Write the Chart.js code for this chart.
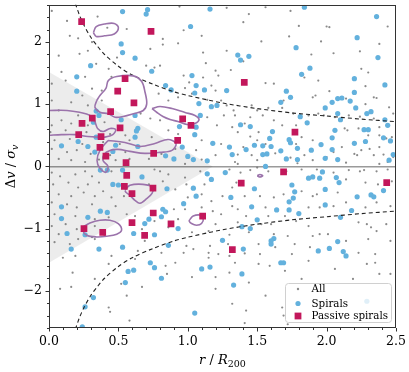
<!DOCTYPE html>
<html>
<head>
<meta charset="utf-8">
<script src="https://cdn.jsdelivr.net/npm/chart.js@4/dist/chart.umd.min.js"></script>
<style>
  html, body { margin: 0; padding: 0; background: #fff; }
  canvas { display: block; }
</style>
</head>
<body>
<canvas id="phase" width="409" height="372"></canvas>
<script>
// axis ticks
const xTicks = [0, 0.5, 1.0, 1.5, 2.0, 2.5];
const yTicks = [-2, -1, 0, 1, 2];

// all cluster members (r/R200, dv/sigma)
const allGalaxies = [
  [0.02,2.50],[0.13,2.34],[0.35,2.41],[0.42,2.23],[0.56,2.21],[0.15,2.10],[0.21,2.06],[0.31,2.00],[0.07,1.78],[0.22,1.81],
  [0.28,1.86],[0.49,1.75],[0.34,1.65],[0.43,1.57],[0.09,1.52],[0.26,1.44],[0.45,1.44],[0.02,1.33],[0.12,1.38],[0.31,1.25],
  [0.24,1.14],[0.38,1.22],[0.02,1.06],[0.16,1.03],[0.38,1.06],[0.28,0.98],[0.07,0.90],[0.21,0.82],[0.09,0.74],[0.02,0.66],
  [0.16,0.69],[0.28,0.66],[0.40,0.71],[0.52,0.61],[0.01,0.55],[0.12,0.58],[0.27,0.55],[0.44,0.52],[0.55,0.50],[0.04,0.42],
  [0.15,0.44],[0.24,0.36],[0.39,0.39],[0.51,0.36],[0.58,0.42],[0.02,0.28],[0.13,0.23],[0.20,0.26],[0.30,0.20],[0.44,0.18],
  [0.55,0.23],[0.07,0.12],[0.16,0.10],[0.26,0.07],[0.36,0.11],[0.48,0.10],[0.58,0.12],
  [0.02,-0.10],[0.08,-0.16],[0.19,-0.13],[0.26,-0.08],[0.31,-0.16],[0.45,-0.08],[0.03,-0.29],[0.14,-0.26],[0.21,-0.34],[0.28,-0.29],
  [0.36,-0.26],[0.39,-0.40],[0.07,-0.45],[0.16,-0.48],[0.25,-0.42],[0.33,-0.48],[0.45,-0.50],[0.54,-0.48],[0.02,-0.58],[0.13,-0.61],
  [0.20,-0.66],[0.31,-0.61],[0.48,-0.64],[0.04,-0.77],[0.19,-0.80],[0.33,-0.85],[0.43,-0.82],[0.56,-0.77],[0.02,-0.96],[0.12,-0.93],
  [0.20,-1.01],[0.33,-0.96],[0.07,-1.09],[0.21,-1.17],[0.31,-1.14],[0.40,-1.12],[0.04,-1.22],[0.15,-1.25],[0.10,-1.47],[0.19,-1.44],
  [0.33,-1.17],[0.45,-1.44],[0.62,-1.49],[0.17,-1.71],[0.43,-1.57],[0.33,-1.81],[0.08,-1.97],[0.52,-1.89],[0.56,-2.08],[0.43,-2.27],
  [0.44,-2.34],[0.58,-2.48],[0.16,-1.94],
  [0.76,-0.05],[0.80,-0.08],[0.86,-0.13],[0.98,-0.18],[1.09,-0.08],[0.72,-0.29],[0.82,-0.24],[0.99,-0.29],[0.91,-0.37],[1.12,-0.29],
  [1.00,-0.50],[1.10,-0.45],[1.17,-0.56],[1.25,-0.48],[0.90,-0.69],[0.98,-0.69],[1.10,-0.66],[1.18,-0.72],[1.24,-0.77],[0.62,-0.80],
  [0.76,-0.88],[0.93,-0.85],[1.20,-0.93],[0.67,-1.01],[0.86,-0.98],[1.03,-1.06],[1.15,-1.04],[0.69,-1.20],[0.99,-1.28],[1.16,-1.28],
  [0.64,-1.36],[0.81,-1.39],[0.97,-1.39],[1.04,-1.33],[1.15,-1.39],[1.22,-1.41],[0.84,-1.60],[0.91,-1.55],[1.15,-1.47],[0.85,-1.73],
  [1.03,-1.78],[0.67,-1.94],[1.20,-1.97],[1.20,-1.78],
  [0.94,2.57],[0.82,2.05],[0.82,1.96],[0.93,1.98],[0.97,2.19],[1.10,2.10],[0.73,1.89],[1.11,1.83],[1.13,1.66],[1.20,1.54],
  [0.70,1.62],[0.76,1.59],[0.80,1.62],[0.97,1.46],[1.01,1.35],[0.98,1.26],[1.03,1.17],[1.11,1.43],[1.17,1.30],[1.20,1.22],
  [1.22,1.46],[0.93,1.11],[0.79,1.17],[0.86,1.06],[1.14,1.07],[1.24,1.06],[0.66,0.85],[0.73,0.77],[0.80,0.74],[0.86,0.58],
  [0.93,0.52],[1.14,0.79],[1.21,0.66],[1.26,0.82],[0.74,0.47],[1.10,0.42],[1.24,0.36],[0.91,0.28],[1.06,0.26],[0.81,0.20],
  [0.72,0.12],[1.20,0.18],[0.90,0.10],[1.10,0.11],[0.98,0.04],
  [1.28,2.55],[1.44,2.45],[1.56,2.56],[1.74,2.50],[1.40,2.32],[1.80,2.26],[1.53,2.01],[1.73,2.09],[1.28,1.86],[1.89,1.80],
  [1.40,1.69],[1.31,1.55],[1.84,1.43],[1.56,1.34],[1.62,1.33],[1.69,1.06],[1.68,0.94],[1.90,1.11],[1.28,0.98],[1.33,0.90],
  [1.46,0.98],[1.50,0.90],[1.58,0.94],[1.34,0.82],[1.45,0.79],[1.54,0.82],[1.62,0.74],[1.76,0.85],[1.87,0.82],[1.32,0.63],
  [1.41,0.69],[1.51,0.55],[1.68,0.66],[1.78,0.66],[1.36,0.55],[1.45,0.48],[1.50,0.42],[1.82,0.47],[1.90,0.42],[1.40,0.31],
  [1.56,0.36],[1.78,0.36],[1.36,0.19],[1.46,0.18],[1.63,0.21],[1.84,0.18],[1.34,0.07],[1.36,0.04],[1.50,0.10],[1.74,0.14],
  [1.79,0.05],[1.90,0.10],
  [2.00,2.25],[2.02,2.24],[1.96,2.01],[2.05,1.82],[2.24,1.85],[2.44,2.25],[2.38,1.97],[2.25,1.57],[2.30,1.51],[1.94,1.38],
  [2.28,1.29],[1.92,1.14],[2.02,1.21],[2.14,1.09],[2.34,1.11],[2.36,1.10],[2.28,1.00],[2.45,0.95],[1.94,0.85],[1.98,0.82],
  [2.06,0.79],[2.16,0.82],[2.24,0.80],[2.34,0.77],[2.48,0.85],[2.13,0.61],[2.15,0.58],[2.23,0.61],[2.38,0.63],[2.30,0.50],
  [2.38,0.50],[2.41,0.47],[2.43,0.45],[2.47,0.47],[2.11,0.31],[2.20,0.20],[2.22,0.18],[2.31,0.28],[2.38,0.31],[2.25,0.26],
  [2.34,0.18],[2.41,0.19],[2.48,0.15],[2.00,0.15],[2.05,0.23],[2.14,0.06],[2.38,0.04],[2.44,0.07],
  [1.30,-0.05],[1.38,-0.10],[1.45,-0.06],[1.50,-0.02],[1.58,-0.08],[1.71,-0.08],[1.82,-0.05],[1.32,-0.34],[1.35,-0.26],[1.41,-0.48],
  [1.52,-0.48],[1.62,-0.50],[1.69,-0.45],[1.82,-0.40],[1.90,-0.48],[1.32,-0.64],[1.36,-0.69],[1.42,-0.80],[1.56,-0.66],[1.58,-0.80],
  [1.70,-0.80],[1.87,-0.66],[1.36,-0.90],[1.53,-0.93],[1.60,-0.93],[1.78,-0.88],[1.87,-0.96],[1.30,-1.10],[1.44,-1.06],[1.62,-1.09],
  [1.72,-1.12],[1.90,-1.12],[1.29,-1.25],[1.51,-1.25],[1.63,-1.30],[1.77,-1.25],[1.88,-1.30],[1.30,-1.44],[1.41,-1.40],[1.52,-1.41],
  [1.75,-1.41],[1.34,-1.55],[1.51,-1.57],[1.59,-1.60],[1.87,-1.52],[1.30,-1.71],[1.70,-1.68],[1.44,-1.87],[1.82,-1.81],[1.56,-2.08],
  [1.32,-2.21],[1.42,-2.32],[1.69,-2.40],[1.41,-2.52],[1.68,-2.27],[1.72,-2.54],
  [1.93,-0.05],[2.05,-0.10],[2.16,-0.06],[2.24,-0.08],[2.27,-0.06],[2.36,-0.08],[2.44,-0.05],[2.14,-0.21],[2.28,-0.26],[2.37,-0.29],
  [2.47,-0.24],[1.93,-0.45],[2.08,-0.42],[2.14,-0.58],[1.95,-0.66],[2.05,-0.64],[2.28,-0.66],[2.36,-0.58],[2.46,-0.64],[2.23,-0.90],
  [2.29,-0.93],[2.32,-0.98],[2.36,-1.04],[2.43,-0.93],[1.95,-1.09],[2.01,-1.09],[2.14,-1.20],[2.30,-1.17],[2.46,-1.20],[2.23,-1.39],
  [2.35,-1.41],[2.06,-1.65],[2.29,-1.57],[2.35,-1.55],[2.19,-1.81],[2.38,-1.73],[2.46,-1.73]
];

// spirals
const spirals = [
  [0.53,2.49],[0.71,2.52],[0.70,2.45],[1.02,2.25],[0.52,1.97],[0.53,1.83],[0.62,1.74],[0.30,1.62],[0.20,1.44],[0.74,1.53],
  [1.03,1.46],[0.84,1.30],[0.88,1.23],[1.12,1.23],[1.05,1.18],[1.06,1.30],[1.08,1.01],[0.20,1.21],[0.34,0.89],[0.36,0.82],
  [0.52,0.75],[0.62,0.82],[0.32,0.71],[0.64,0.61],[0.63,0.57],[1.09,0.82],[1.06,0.63],[0.94,0.64],[0.62,0.47],[0.34,0.47],
  [0.09,0.33],[0.21,0.40],[0.28,0.32],[0.33,0.23],[0.46,0.24],[0.48,0.34],[0.96,0.31],[0.84,0.17],[0.90,0.12],[1.14,-0.12],
  [0.37,-0.06],[0.46,-0.29],[0.67,-0.17],[1.16,2.53],[1.17,0.96],[1.21,0.98],[1.28,1.22],[1.05,0.51],[1.18,0.37],[1.00,0.16],
  [1.04,0.11],[1.14,0.09],[0.64,0.32],
  [1.84,2.56],[1.78,1.91],[1.36,1.79],[1.38,1.71],[1.44,1.77],[1.82,1.48],[1.88,1.58],[1.71,1.21],[1.74,1.11],[1.67,1.03],
  [1.81,0.80],[1.86,0.70],[1.38,0.67],[1.45,0.64],[1.61,0.56],[1.59,0.45],[1.73,0.43],[1.74,0.38],[1.30,0.31],[1.42,0.27],
  [1.48,0.34],[1.54,0.33],[1.60,0.32],[1.67,0.25],[1.79,0.29],[1.89,0.26],[1.32,0.19],[1.54,0.19],[1.57,0.20],[1.71,0.12],
  [1.79,0.11],[1.56,0.00],
  [2.36,2.41],[2.22,2.07],[2.37,1.75],[2.20,1.41],[2.42,1.31],[2.20,1.19],[2.11,1.10],[2.08,1.09],[2.17,1.05],[2.04,1.03],
  [1.99,0.94],[2.21,0.94],[2.32,0.88],[2.29,0.85],[2.08,0.85],[2.10,0.75],[2.42,0.75],[2.44,0.66],[2.06,0.58],[2.27,0.59],
  [2.30,0.59],[2.04,0.46],[2.20,0.37],[2.28,0.40],[2.41,0.46],[2.46,0.41],[1.96,0.35],[2.04,0.27],[2.48,0.19],[2.45,0.10],
  [1.99,0.13],[2.08,0.11],
  [0.42,-0.06],[0.53,-0.06],[0.50,-0.30],[0.09,-0.65],[0.09,-0.84],[0.28,-0.82],[0.37,-0.72],[0.42,-0.74],[0.13,-1.08],[0.26,-1.10],
  [0.61,-1.08],[0.16,-1.33],[0.36,-1.33],[0.53,-1.30],[0.57,-1.69],[0.61,-1.67],[0.55,-1.87],[0.32,-2.11],[0.26,-2.26],[0.24,-2.58],
  [0.85,-0.36],[1.17,-0.21],[1.04,-0.35],[1.06,-0.48],[0.97,-0.60],[0.82,-0.69],[0.84,-0.73],[0.81,-0.81],[0.72,-0.85],[0.69,-0.92],
  [0.93,-1.00],[0.76,-1.10],[0.86,-1.27],[1.25,-1.19],[0.73,-1.55],[0.76,-1.63],[0.81,-1.80],[1.10,-1.65],[1.16,-1.62],[1.05,-2.36],
  [1.87,-0.19],[1.90,-0.17],[1.48,-0.36],[1.75,-0.30],[1.77,-0.41],[1.76,-0.51],[1.73,-0.57],[1.31,-0.50],[1.46,-0.65],[1.64,-0.70],
  [1.73,-0.70],[1.80,-0.76],[1.50,-0.86],[1.39,-0.97],[1.45,-1.00],[1.62,-1.16],[1.60,-1.20],[1.60,-1.25],[1.40,-1.33],[1.67,-1.55],
  [1.69,-1.55],[1.39,-1.73],[1.33,-1.91],[1.97,-0.09],[1.95,-0.19],[2.07,-0.18],[2.09,-0.26],[1.99,-0.37],[2.22,-0.49],[2.32,-0.46],
  [2.34,-0.49],[2.41,-0.39],[1.99,-0.62],[2.18,-0.71],[2.10,-0.82],[2.08,-1.21],[1.94,-1.36],[2.02,-1.32],[2.12,-1.37],[2.14,-1.44],
  [2.29,-2.17],[1.27,-0.10]
];

// passive spirals
const passiveSpirals = [
  [0.235,2.33],[0.735,2.17],[0.548,1.41],[0.495,1.21],[0.612,1.02],[0.444,0.88],[0.312,0.775],[0.238,0.69],[0.963,0.765],[1.023,0.66],
  [0.927,0.42],[0.512,0.62],[0.214,0.51],[0.375,0.48],[0.367,0.305],[0.41,0.165],[0.754,0.21],[0.555,0.06],[0.56,-0.145],[0.543,-0.32],
  [0.749,-0.35],[1.407,1.35],[1.772,0.55],[1.69,-0.09],[1.385,-0.27],[2.433,-0.26],[0.598,-0.44],[0.751,-0.75],[0.598,-0.905],[0.879,-0.925],
  [1.107,-0.80],[0.252,-1.0],[0.387,-1.06],[0.689,-1.11],[1.321,-1.34]
];

// escape-velocity caustics
const causticR     = [0.19, 0.22, 0.25, 0.30, 0.35, 0.40, 0.50, 0.60, 0.75, 0.90, 1.00, 1.25, 1.50, 1.75, 2.00, 2.25, 2.50];
const causticUpper = [2.62, 2.43, 2.28, 2.08, 1.93, 1.80, 1.61, 1.47, 1.32, 1.20, 1.14, 1.02, 0.93, 0.86, 0.81, 0.76, 0.72];
const causticLower = [-2.62, -2.43, -2.28, -2.08, -1.93, -1.80, -1.61, -1.47, -1.32, -1.20, -1.14, -1.02, -0.93, -0.86, -0.81, -0.76, -0.72];

// shaded virialised region (edges to v=0)
const shadeUpper = [[0, 1.52], [1.18, 0]];
const shadeLower = [[0, -1.55], [1.18, 0]];

// density contours of passive spirals
const contourA = [[0.32,2.15],[0.34,2.25],[0.40,2.29],[0.47,2.30],[0.50,2.23],[0.47,2.13],[0.40,2.10],[0.34,2.09],[0.32,2.15]];
const contourB = [[0.344,1.06],[0.367,1.14],[0.411,1.26],[0.427,1.38],[0.488,1.445],[0.607,1.456],[0.668,1.364],[0.692,1.193],
  [0.704,1.006],[0.679,0.899],[0.607,0.846],[0.535,0.803],[0.476,0.791],[0.427,0.846],[0.367,0.872],[0.331,0.952],[0.344,1.06]];
const contourC = [[0.742,0.93],[0.80,0.963],[0.886,0.93],[0.98,0.867],[1.052,0.819],[1.081,0.754],[1.052,0.69],[0.994,0.674],
  [0.929,0.722],[0.872,0.754],[0.821,0.803],[0.778,0.867],[0.742,0.93]];
const contourD = [[0,0.90],[0.13,0.90],[0.22,0.87],[0.295,0.82],[0.33,0.72],[0.35,0.61],[0.39,0.56],[0.44,0.61],[0.48,0.59],
  [0.46,0.51],[0.40,0.47],[0.35,0.47],[0.28,0.48],[0.19,0.51],[0.09,0.51],[0,0.50]];
const contourE = [[0.425,0.417],[0.547,0.385],[0.655,0.321],[0.763,0.369],[0.857,0.433],[0.915,0.369],[0.886,0.257],[0.80,0.225],
  [0.691,0.209],[0.583,0.241],[0.497,0.273],[0.439,0.257],[0.396,0.193],[0.389,0.096],[0.425,0],[0.41,-0.096],[0.367,-0.032],
  [0.346,0.096],[0.367,0.257],[0.425,0.417]];
const contourF = [[0.547,-0.385],[0.583,-0.305],[0.677,-0.289],[0.749,-0.337],[0.742,-0.433],[0.706,-0.514],[0.655,-0.594],
  [0.619,-0.546],[0.583,-0.465],[0.554,-0.417],[0.547,-0.385]];
const contourG = [[0.247,-0.974],[0.295,-0.91],[0.367,-0.867],[0.439,-0.867],[0.499,-0.92],[0.523,-1.027],[0.488,-1.091],
  [0.415,-1.124],[0.343,-1.135],[0.271,-1.108],[0.242,-1.027],[0.247,-0.974]];
const contourH = [[1.016,-0.851],[1.039,-0.798],[1.087,-0.782],[1.111,-0.823],[1.099,-0.92],[1.063,-0.947],[1.027,-0.92],[1.01,-0.878],[1.016,-0.851]];
const contourI = [[1.50,-0.15],[1.52,-0.13],[1.54,-0.15],[1.52,-0.17],[1.50,-0.15]];
const contours = [contourA, contourB, contourC, contourD, contourE, contourF, contourG, contourH, contourI];

const SERIF = "'DejaVu Serif', serif";
const GREY = 'rgba(118,118,118,0.85)';
const BLUE = '#63b1dd';
const MAGENTA = '#c2175b';
const PURPLE = '#9b73ab';

const xy = pts => pts.map(p => ({ x: p[0], y: p[1] }));
const zip = (xs, ys) => xs.map((x, i) => ({ x: x, y: ys[i] }));

const datasets = [
  { type: 'scatter', label: 'Passive spirals', data: xy(passiveSpirals), pointStyle: 'rect',
    pointRadius: 4.75, backgroundColor: MAGENTA, borderWidth: 0 }
];
contours.forEach(c => datasets.push({
  type: 'line', data: xy(c), borderColor: PURPLE, borderWidth: 1.6,
  pointRadius: 0, tension: 0.35, fill: false
}));
datasets.push(
  { type: 'line', data: zip(causticR, causticUpper), borderColor: '#222', borderWidth: 1.1,
    borderDash: [4, 3], pointRadius: 0, tension: 0.3, fill: false },
  { type: 'line', data: zip(causticR, causticLower), borderColor: '#222', borderWidth: 1.1,
    borderDash: [4, 3], pointRadius: 0, tension: 0.3, fill: false },
  { type: 'scatter', label: 'Spirals', data: xy(spirals), pointStyle: 'circle',
    pointRadius: 2.6, backgroundColor: BLUE, borderWidth: 0 },
  { type: 'scatter', label: 'All', data: xy(allGalaxies), pointStyle: 'circle',
    pointRadius: 1.1, backgroundColor: GREY, borderWidth: 0 },
  { type: 'line', data: xy(shadeUpper), borderColor: 'rgba(0,0,0,0)', borderWidth: 1,
    pointRadius: 0, fill: 'origin', backgroundColor: 'rgba(0,0,0,0.075)' },
  { type: 'line', data: xy(shadeLower), borderColor: 'rgba(0,0,0,0)', borderWidth: 1,
    pointRadius: 0, fill: 'origin', backgroundColor: 'rgba(0,0,0,0.075)' }
);

// frame, minor/major ticks, math axis titles, legend
const decor = {
  id: 'decor',
  afterDatasetsDraw(chart) {
    const ctx = chart.ctx, a = chart.chartArea;
    const xs = chart.scales.x, ys = chart.scales.y;
    ctx.save();
    ctx.strokeStyle = '#333';
    ctx.lineWidth = 1;
    ctx.strokeRect(Math.round(a.left) + 0.5, Math.round(a.top) + 0.5,
      Math.round(a.right - a.left) - 1, Math.round(a.bottom - a.top) - 1);

    ctx.beginPath();
    for (let i = 0; i <= 25; i++) {
      const px = Math.round(xs.getPixelForValue(i / 10)) + 0.5;
      const len = i % 5 === 0 ? 3.5 : 2;
      ctx.moveTo(px, a.bottom); ctx.lineTo(px, a.bottom + len);
    }
    for (let i = -13; i <= 13; i++) {
      const py = Math.round(ys.getPixelForValue(i / 5)) + 0.5;
      const len = i % 5 === 0 ? 3.5 : 2;
      ctx.moveTo(a.left, py); ctx.lineTo(a.left - len, py);
    }
    ctx.stroke();

    // x title: r / R_200
    ctx.fillStyle = '#000';
    ctx.textBaseline = 'alphabetic';
    const drawParts = (list, cx, cy) => {
      let w = 0;
      list.forEach(p => { ctx.font = p[0]; w += ctx.measureText(p[1]).width; });
      let x = cx - w / 2;
      list.forEach(p => { ctx.font = p[0]; ctx.fillText(p[1], x, cy + p[2]); x += ctx.measureText(p[1]).width; });
    };
    drawParts([
      ['italic 13px ' + SERIF, 'r', 0],
      ['13px ' + SERIF, ' / ', 0],
      ['italic 13px ' + SERIF, 'R', 0],
      ['9.5px ' + SERIF, '200', 3]
    ], (a.left + a.right) / 2, 364);

    // y title: Δv / σ_v
    ctx.save();
    ctx.translate(15, (a.top + a.bottom) / 2);
    ctx.rotate(-Math.PI / 2);
    drawParts([
      ['13px ' + SERIF, 'Δ', 0],
      ['italic 13px ' + SERIF, 'v', 0],
      ['13px ' + SERIF, ' / ', 0],
      ['italic 13px ' + SERIF, 'σ', 0],
      ['italic 9.5px ' + SERIF, 'v', 3]
    ], 0, 0);
    ctx.restore();

    // legend
    const bx = 285, by = 283, bw = 106, bh = 39;
    ctx.beginPath();
    ctx.roundRect(bx + 0.5, by + 0.5, bw, bh, 3);
    ctx.fillStyle = 'rgba(255,255,255,0.8)';
    ctx.fill();
    ctx.strokeStyle = '#d0d0d0';
    ctx.stroke();
    const entries = [
      ['All', GREY, 'dot', 289],
      ['Spirals', BLUE, 'circle', 303.5],
      ['Passive spirals', MAGENTA, 'rect', 316]
    ];
    ctx.font = '10.3px ' + SERIF;
    ctx.textBaseline = 'middle';
    entries.forEach(e => {
      ctx.fillStyle = e[1];
      ctx.beginPath();
      if (e[2] === 'rect') ctx.rect(298 - 3.4, e[3] - 3.4, 6.8, 6.8);
      else ctx.arc(298, e[3], e[2] === 'dot' ? 1.2 : 2.6, 0, Math.PI * 2);
      ctx.fill();
      ctx.fillStyle = '#000';
      ctx.fillText(e[0], 311.5, e[3] + 0.5);
    });
    ctx.restore();
  }
};

new Chart(document.getElementById('phase'), {
  type: 'scatter',
  data: { datasets: datasets },
  options: {
    responsive: false,
    animation: false,
    devicePixelRatio: 1,
    events: [],
    layout: { padding: { left: 0, right: 13, top: 4, bottom: 0 } },
    plugins: { legend: { display: false }, tooltip: { enabled: false } },
    scales: {
      x: {
        type: 'linear', min: 0, max: 2.5,
        afterBuildTicks: s => { s.ticks = xTicks.map(v => ({ value: v })); },
        afterFit: s => { s.height = 44; s.paddingLeft = 0; s.paddingRight = 0; },
        grid: { display: false, drawTicks: false },
        border: { display: false },
        ticks: { color: '#000', padding: 6, maxRotation: 0, autoSkip: false,
          font: { family: SERIF, size: 12.5 }, callback: v => v.toFixed(1) }
      },
      y: {
        type: 'linear', min: -2.6, max: 2.6,
        afterBuildTicks: s => { s.ticks = yTicks.map(v => ({ value: v })); },
        afterFit: s => { s.width = 49; s.paddingTop = 0; s.paddingBottom = 0; },
        grid: { drawTicks: false, lineWidth: 1.5,
          color: c => (c.tick && c.tick.value === 0) ? '#9a9a9a' : 'rgba(0,0,0,0)' },
        border: { display: false },
        ticks: { color: '#000', padding: 7,
          font: { family: SERIF, size: 12.5 },
          callback: v => v < 0 ? '\u2212' + Math.abs(v) : String(v) }
      }
    }
  },
  plugins: [decor]
});
</script>
</body>
</html>
